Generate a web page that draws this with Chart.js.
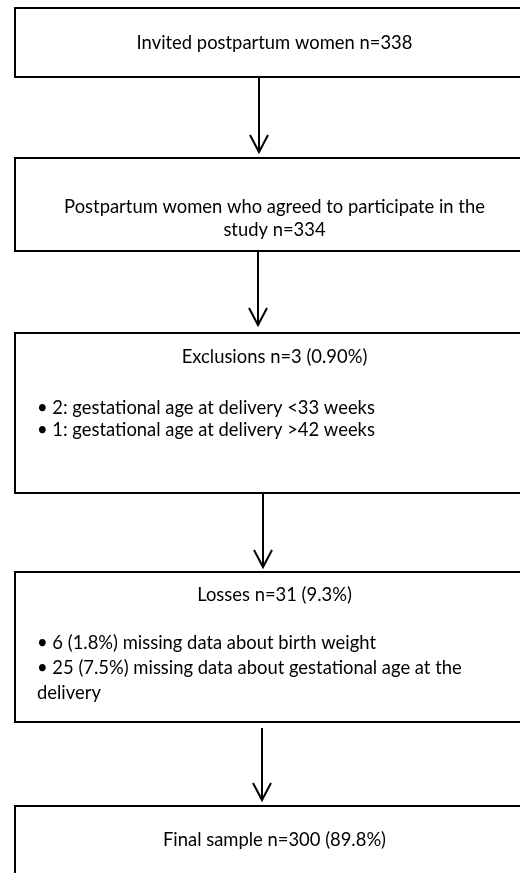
<!DOCTYPE html>
<html lang="en">
<head>
    <meta charset="UTF-8">
    <title>Flowchart - study sample</title>
    <script src="https://cdn.jsdelivr.net/npm/chart.js"></script>
    <style>
        body {
            margin: 0;
            padding: 0;
            background: white;
        }
        canvas {
            display: block;
        }
    </style>
</head>
<body>
    <canvas id="flowChart" width="520" height="873"></canvas>

    <script>
        // data
        const stageLabels = [
            'Invited postpartum women',
            'Postpartum women who agreed to participate in the\nstudy',
            'Exclusions',
            'Losses',
            'Final sample'
        ];
        const stageN = [338, 334, 3, 31, 300];
        const stagePct = [null, null, '0.90%', '9.3%', '89.8%'];
        const exclusionItems = [
            '2: gestational age at delivery <33 weeks',
            '1: gestational age at delivery >42 weeks'
        ];
        const lossItems = [
            '6 (1.8%) missing data about birth weight',
            '25 (7.5%) missing data about gestational age at the\ndelivery'
        ];
        const stageItems = [[], [], exclusionItems, lossItems, []];

        // layout (in pixel units of the 520x873 picture)
        const boxLeft = 15, boxRight = 530, bulletLeft = 37;
        const boxTop = [8, 158, 333, 572, 806];
        const boxBottom = [77, 251, 493, 722, 890];
        const titleOffset = [35, 49, 24, 23, 34];
        const itemsOffset = [0, 0, 75, 71, 0];
        const lineGap = [0, 23, 22, 25, 0];
        const arrowX = [259, 258, 263, 262];
        const arrowFrom = [77, 251, 493, 728];
        const arrowTo = [152, 325, 567, 800];

        const fontFamily = 'Lato, "Open Sans", sans-serif';
        let fontSize = 18;

        function fitFont(ctx) {
            ctx.font = '100px ' + fontFamily;
            const w = ctx.measureText('Invited postpartum women n=338').width;
            fontSize = 100 * 276 / w;
        }

        const flowPlugin = {
            id: 'flow',
            afterDraw(chart) {
                const ctx = chart.ctx;
                const xs = chart.scales.x, ys = chart.scales.y;
                const px = v => xs.getPixelForValue(v);
                const py = v => ys.getPixelForValue(v);
                ctx.save();
                fitFont(ctx);
                ctx.strokeStyle = '#000';
                ctx.fillStyle = '#000';
                ctx.lineWidth = 2;

                // boxes
                stageLabels.forEach((label, i) => {
                    ctx.strokeRect(px(boxLeft), py(boxTop[i]), px(boxRight) - px(boxLeft), py(boxBottom[i]) - py(boxTop[i]));

                    let title = label + ' n=' + stageN[i];
                    if (stagePct[i]) title += ' (' + stagePct[i] + ')';
                    ctx.font = fontSize + 'px ' + fontFamily;
                    ctx.textBaseline = 'middle';
                    ctx.textAlign = 'center';
                    const cx = (boxLeft + boxRight) / 2 + 2;
                    title.split('\n').forEach((line, k) => {
                        ctx.fillText(line, px(cx), py(boxTop[i] + titleOffset[i] + k * lineGap[i]));
                    });

                    ctx.textAlign = 'left';
                    let row = 0;
                    stageItems[i].forEach(item => {
                        item.split('\n').forEach((line, k) => {
                            const txt = (k === 0 ? '\u2022 ' : '') + line;
                            ctx.fillText(txt, px(bulletLeft), py(boxTop[i] + itemsOffset[i] + row * lineGap[i]));
                            row++;
                        });
                    });
                });

                // arrows
                arrowX.forEach((x, i) => {
                    const ax = px(x), y0 = py(arrowFrom[i]), y1 = py(arrowTo[i]);
                    ctx.beginPath();
                    ctx.moveTo(ax, y0);
                    ctx.lineTo(ax, y1);
                    ctx.moveTo(ax - 9, y1 - 17);
                    ctx.lineTo(ax, y1);
                    ctx.lineTo(ax + 9, y1 - 17);
                    ctx.stroke();
                });
                ctx.restore();
            }
        };

        window.onload = function() {
            const ctx = document.getElementById('flowChart').getContext('2d');
            new Chart(ctx, {
                type: 'scatter',
                data: { datasets: [] },
                options: {
                    responsive: false,
                    animation: false,
                    layout: { padding: 0 },
                    scales: {
                        x: { type: 'linear', min: 0, max: 520, display: false },
                        y: { type: 'linear', min: 0, max: 873, reverse: true, display: false }
                    },
                    plugins: {
                        legend: { display: false },
                        tooltip: { enabled: false }
                    }
                },
                plugins: [flowPlugin]
            });
        };
    </script>
</body>
</html>
